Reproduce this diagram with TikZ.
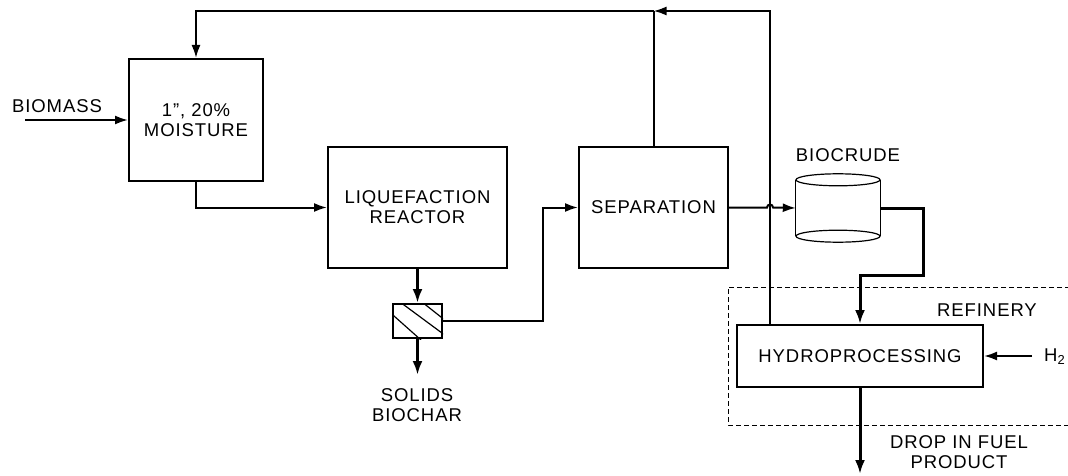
\documentclass[tikz,border=0pt]{standalone}
\usepackage{fontspec}
\setmainfont{Liberation Sans}[LetterSpace=5]
\usetikzlibrary{arrows.meta,calc}
\begin{document}
\begin{tikzpicture}[x=1pt,y=-1pt,
  font=\fontsize{18.5}{20}\selectfont,
  box/.style={draw,line width=2pt,inner sep=0pt,align=center},
  lbl/.style={inner sep=0pt,align=center},
  flow/.style={line width=2pt,-{Latex[length=13pt,width=9pt]}},
  pipe/.style={line width=2pt},
  thick flow/.style={line width=3pt,-{Latex[length=14pt,width=10pt]}},
  thin/.style={line width=1.2pt}]
\useasboundingbox (0,0) rectangle (1068,476);
% boxes
\node[box,minimum width=134pt,minimum height=122pt] (moist) at (196,120) {1'', 20\%\\MOISTURE};
\node[box,minimum width=179pt,minimum height=121pt] (liq) at (417.5,207.5) {LIQUEFACTION\\REACTOR};
\node[box,minimum width=149pt,minimum height=121pt] (sep) at (653.5,207.5) {SEPARATION};
\node[box,minimum width=49pt,minimum height=34pt] (filt) at (417.5,321) {};
\node[box,minimum width=246pt,minimum height=62pt] (hydro) at (860,356) {HYDROPROCESSING};
\node[inner sep=0pt,minimum width=84pt,minimum height=56pt] (tank) at (838,208) {};
% filter hatch
\begin{scope}
  \clip (filt.north west) rectangle (filt.south east);
  \draw[thin] (385,308) -- (421,340);
  \draw[thin] (400,302) -- (446,336);
  \draw[thin] (422,302) -- (446,321);
\end{scope}
% tank (cylinder)
\draw[thin] (tank.north west) -- (tank.south west);
\draw[thin] (tank.north east) -- (tank.south east);
\draw[thin,fill=white] (tank.north) ellipse [x radius=42pt,y radius=6pt];
\draw[thin] (tank.south) ellipse [x radius=42pt,y radius=6pt];
% labels
\node[lbl] (biomass) at (57,106) {BIOMASS};
\node[lbl] (biocrude) at (848,155) {BIOCRUDE};
\node[lbl] (refinery) at (987,310) {REFINERY};
\node[lbl,anchor=west] (h2) at (1044,357) {H\textsubscript{2}};
\node[lbl] (solids) at (417,405) {SOLIDS\\BIOCHAR};
\node[lbl] (drop) at (959,452) {DROP IN FUEL\\PRODUCT};
% coordinates
\coordinate (bin) at (25,120);
\coordinate (rtop) at (770,11);
\coordinate (j) at (sep.north |- rtop);
\coordinate (hup) at (hydro.north -| rtop);
\coordinate (charout) at (417.5,375);
\coordinate (fr) at (543,0);
\coordinate (t1) at (923,208);
\coordinate (t2) at (923,275);
\coordinate (h2in) at (1032,356);
\coordinate (prod) at (860,474);
% connectors
\draw[flow] (bin) -- (moist.west);
\draw[flow] (moist.south) |- (liq.west);
\draw[flow] (hup) -- (rtop) -- (j);
\draw[pipe] (sep.north) -- (j);
\draw[flow] (j) -| (moist.north);
\draw[thick flow] (liq.south) -- (filt.north);
\draw[thick flow] (filt.south) -- (charout);
\draw[flow] (filt.east) -| (fr |- sep.west) -- (sep.west);
\draw[flow] (sep.east) -- ($(rtop |- sep.east)+(-3,0)$) arc[start angle=180,end angle=0,radius=3pt] -- (tank.west);
\draw[thick flow] (tank.east) -- (t1) -- (t2) -| (hydro.north);
\draw[flow] (h2in) -- (hydro.east);
\draw[thick flow] (hydro.south) -- (prod);
% refinery boundary
\draw[line width=1pt,dash pattern=on 5pt off 3pt] (1070,287) -- (728,287) -- (728,425) -- (1070,425);
\end{tikzpicture}
\end{document}
